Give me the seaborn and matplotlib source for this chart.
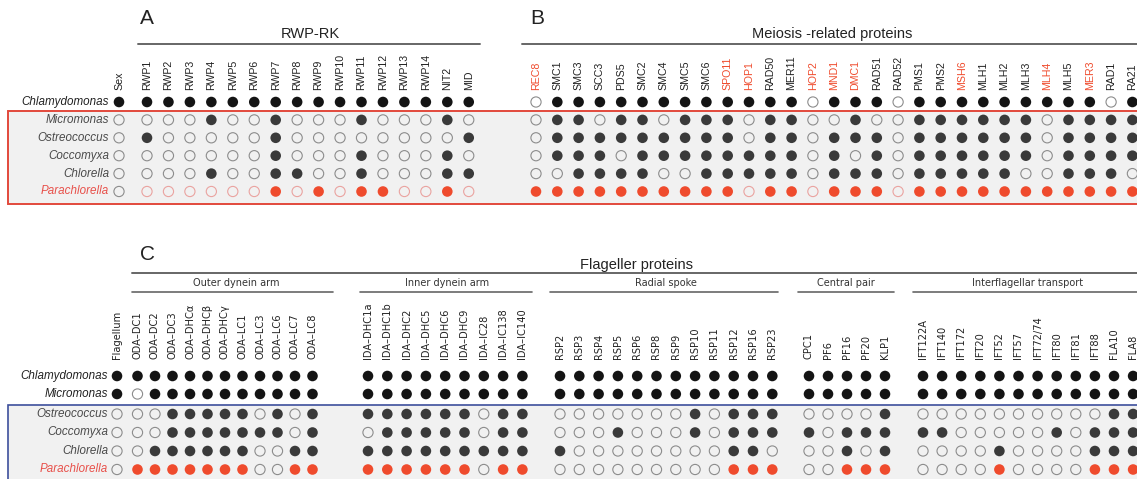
import numpy as np
import pandas as pd
import matplotlib
matplotlib.use('Agg')
import matplotlib.pyplot as plt
import matplotlib.patches as mpatches
import seaborn as sns

# ── 1. Data ──────────────────────────────────────────────────────────────────
species = ['Chlamydomonas', 'Micromonas', 'Ostreococcus',
           'Coccomyxa', 'Chlorella', 'Parachlorella']

# Panel A: sexual reproduction / RWP-RK genes
sex = [1, 0, 0, 0, 0, 0]
rwp_genes = ['RWP1', 'RWP2', 'RWP3', 'RWP4', 'RWP5', 'RWP6', 'RWP7', 'RWP8',
             'RWP9', 'RWP10', 'RWP11', 'RWP12', 'RWP13', 'RWP14', 'NIT2', 'MID']
rwp = {
    'Chlamydomonas': [1, 1, 1, 1, 1, 1, 1, 1, 1, 1, 1, 1, 1, 1, 1, 1],
    'Micromonas':    [0, 0, 0, 1, 0, 0, 1, 0, 0, 0, 1, 0, 0, 0, 1, 0],
    'Ostreococcus':  [1, 0, 0, 0, 0, 0, 1, 0, 0, 0, 0, 0, 0, 0, 0, 1],
    'Coccomyxa':     [0, 0, 0, 0, 0, 0, 1, 0, 0, 0, 1, 0, 0, 0, 1, 0],
    'Chlorella':     [0, 0, 0, 1, 0, 0, 1, 1, 0, 0, 1, 0, 0, 0, 1, 1],
    'Parachlorella': [0, 0, 0, 0, 0, 0, 1, 0, 1, 0, 1, 1, 0, 0, 1, 0],
}

# Panel B: meiosis-related proteins (red labels = meiosis-specific)
meiosis_genes = ['REC8', 'SMC1', 'SMC3', 'SCC3', 'PDS5', 'SMC2', 'SMC4', 'SMC5',
                 'SMC6', 'SPO11', 'HOP1', 'RAD50', 'MER11', 'HOP2', 'MND1',
                 'DMC1', 'RAD51', 'RAD52', 'PMS1', 'PMS2', 'MSH6', 'MLH1',
                 'MLH2', 'MLH3', 'MLH4', 'MLH5', 'MER3', 'RAD1', 'RA21']
meiosis_red = ['REC8', 'SPO11', 'HOP1', 'HOP2', 'MND1', 'DMC1',
               'MSH6', 'MLH4', 'MER3']
meiosis = {
    'Chlamydomonas': [0, 1, 1, 1, 1, 1, 1, 1, 1, 1, 1, 1, 1, 0, 1, 1, 1, 0, 1, 1, 1, 1, 1, 1, 1, 1, 1, 0, 1],
    'Micromonas':    [0, 1, 1, 0, 1, 1, 0, 1, 1, 1, 0, 1, 1, 0, 0, 1, 0, 0, 1, 1, 1, 1, 1, 1, 0, 1, 1, 1, 1],
    'Ostreococcus':  [0, 1, 1, 1, 1, 1, 1, 1, 1, 1, 0, 1, 1, 0, 1, 1, 1, 0, 1, 1, 1, 1, 1, 1, 0, 1, 1, 1, 1],
    'Coccomyxa':     [0, 1, 1, 1, 0, 1, 1, 1, 1, 1, 1, 1, 1, 0, 1, 0, 1, 0, 1, 1, 1, 1, 1, 1, 0, 1, 1, 1, 1],
    'Chlorella':     [0, 0, 1, 1, 1, 1, 0, 0, 1, 1, 1, 1, 1, 0, 1, 1, 1, 0, 1, 1, 1, 1, 1, 0, 0, 1, 1, 1, 0],
    'Parachlorella': [1, 1, 1, 1, 1, 1, 1, 1, 1, 1, 0, 1, 1, 0, 1, 1, 1, 0, 1, 1, 1, 1, 1, 1, 1, 1, 1, 1, 1],
}

# Panel C: flagellar proteins
flagellum = [1, 1, 0, 0, 0, 0]
oda_genes = ['ODA–DC1', 'ODA–DC2', 'ODA–DC3', 'ODA–DHCα', 'ODA–DHCβ', 'ODA–DHCγ',
             'ODA–LC1', 'ODA–LC3', 'ODA–LC6', 'ODA–LC7', 'ODA–LC8']
oda = {
    'Chlamydomonas': [1, 1, 1, 1, 1, 1, 1, 1, 1, 1, 1],
    'Micromonas':    [0, 1, 1, 1, 1, 1, 1, 1, 1, 1, 1],
    'Ostreococcus':  [0, 0, 1, 1, 1, 1, 1, 0, 1, 0, 1],
    'Coccomyxa':     [0, 0, 1, 1, 1, 1, 1, 1, 1, 0, 1],
    'Chlorella':     [0, 1, 1, 1, 1, 1, 1, 0, 0, 1, 1],
    'Parachlorella': [1, 1, 1, 1, 1, 1, 1, 0, 0, 1, 1],
}
ida_genes = ['IDA–DHC1a', 'IDA–DHC1b', 'IDA–DHC2', 'IDA–DHC5', 'IDA–DHC6',
             'IDA–DHC9', 'IDA–IC28', 'IDA–IC138', 'IDA–IC140']
ida = {
    'Chlamydomonas': [1, 1, 1, 1, 1, 1, 1, 1, 1],
    'Micromonas':    [1, 1, 1, 1, 1, 1, 1, 1, 1],
    'Ostreococcus':  [1, 1, 1, 1, 1, 1, 0, 1, 1],
    'Coccomyxa':     [0, 1, 1, 1, 1, 1, 0, 1, 1],
    'Chlorella':     [1, 1, 1, 1, 1, 1, 1, 1, 1],
    'Parachlorella': [1, 1, 1, 1, 1, 1, 0, 1, 1],
}
rsp_genes = ['RSP2', 'RSP3', 'RSP4', 'RSP5', 'RSP6', 'RSP8', 'RSP9', 'RSP10',
             'RSP11', 'RSP12', 'RSP16', 'RSP23']
rsp = {
    'Chlamydomonas': [1, 1, 1, 1, 1, 1, 1, 1, 1, 1, 1, 1],
    'Micromonas':    [1, 1, 1, 1, 1, 1, 1, 1, 1, 1, 1, 1],
    'Ostreococcus':  [0, 0, 0, 0, 0, 0, 0, 1, 0, 1, 1, 1],
    'Coccomyxa':     [0, 0, 0, 1, 0, 0, 0, 1, 0, 1, 1, 1],
    'Chlorella':     [1, 0, 0, 0, 0, 0, 0, 0, 0, 1, 1, 0],
    'Parachlorella': [0, 0, 0, 0, 0, 0, 0, 0, 0, 1, 1, 1],
}
cp_genes = ['CPC1', 'PF6', 'PF16', 'PF20', 'KLP1']
cp = {
    'Chlamydomonas': [1, 1, 1, 1, 1],
    'Micromonas':    [1, 1, 1, 1, 1],
    'Ostreococcus':  [0, 0, 0, 0, 1],
    'Coccomyxa':     [1, 0, 1, 1, 1],
    'Chlorella':     [0, 0, 1, 0, 1],
    'Parachlorella': [0, 0, 1, 1, 1],
}
ift_genes = ['IFT122A', 'IFT140', 'IFT172', 'IFT20', 'IFT52', 'IFT57',
             'IFT72/74', 'IFT80', 'IFT81', 'IFT88', 'FLA10', 'FLA8']
ift = {
    'Chlamydomonas': [1, 1, 1, 1, 1, 1, 1, 1, 1, 1, 1, 1],
    'Micromonas':    [1, 1, 1, 1, 1, 1, 1, 1, 1, 1, 1, 1],
    'Ostreococcus':  [0, 0, 0, 0, 0, 0, 0, 0, 0, 0, 1, 1],
    'Coccomyxa':     [1, 1, 0, 0, 0, 0, 0, 1, 0, 1, 1, 1],
    'Chlorella':     [0, 0, 0, 0, 1, 0, 0, 0, 0, 1, 1, 1],
    'Parachlorella': [0, 0, 0, 0, 1, 0, 0, 0, 0, 1, 1, 1],
}

# ── 2. Layout (pixel canvas) ─────────────────────────────────────────────────
W, H = 1137, 479
top_rows_y = [102 + i * 17.9 for i in range(len(species))]
bot_rows_y = [376, 394] + [414 + i * 18.5 for i in range(4)]

RED = '#ef4b2d'
COLORS = {'black': '#141414', 'dark': '#3a3a3a', 'red': RED}


def block(presence, genes, x0, step, rows_y, panel, boxed_from):
    """Long-form records: one dot per species x gene."""
    recs = []
    for r, sp in enumerate(species):
        for j, g in enumerate(genes):
            val = presence[sp][j]
            if val:
                if sp == 'Parachlorella':
                    state = 'red'
                elif r >= boxed_from:
                    state = 'dark'
                else:
                    state = 'black'
            else:
                pink = panel == 'top' and sp == 'Parachlorella' and g != 'Sex'
                state = 'empty_pink' if pink else 'empty'
            recs.append(dict(x=x0 + j * step, y=rows_y[r], gene=g,
                             species=sp, state=state, panel=panel))
    return recs


sex_d = {sp: [v] for sp, v in zip(species, sex)}
flag_d = {sp: [v] for sp, v in zip(species, flagellum)}

records = []
records += block(sex_d, ['Sex'], 119, 0, top_rows_y, 'top', 1)
records += block(rwp, rwp_genes, 147, 21.45, top_rows_y, 'top', 1)
records += block(meiosis, meiosis_genes, 536, 21.3, top_rows_y, 'top', 1)
records += block(flag_d, ['Flagellum'], 117, 0, bot_rows_y, 'bottom', 2)
records += block(oda, oda_genes, 137.5, 17.5, bot_rows_y, 'bottom', 2)
records += block(ida, ida_genes, 368, 19.3, bot_rows_y, 'bottom', 2)
records += block(rsp, rsp_genes, 560, 19.3, bot_rows_y, 'bottom', 2)
records += block(cp, cp_genes, 809, 19.0, bot_rows_y, 'bottom', 2)
records += block(ift, ift_genes, 923, 19.1, bot_rows_y, 'bottom', 2)
df = pd.DataFrame(records)

# ── 3. Figure ────────────────────────────────────────────────────────────────
sns.set_style('white')
plt.rcParams['font.family'] = ['Liberation Sans', 'DejaVu Sans']

fig = plt.figure(figsize=(W / 100, H / 100), dpi=100)
ax = fig.add_axes([0, 0, 1, 1])
ax.set_xlim(0, W)
ax.set_ylim(H, 0)
ax.axis('off')

# shaded boxes
ax.add_patch(mpatches.Rectangle((8, 110.5), W, 93, facecolor='#f1f1f1',
                                edgecolor='#e2493c', linewidth=1.4, zorder=0))
ax.add_patch(mpatches.Rectangle((8, 405), W, 90, facecolor='#f1f1f1',
                                edgecolor='#3d4f9c', linewidth=1.2, zorder=0))

# dots
for state, color in COLORS.items():
    sub = df[df['state'] == state]
    sns.scatterplot(data=sub, x='x', y='y', color=color, s=58,
                    edgecolor='none', linewidth=0, legend=False, ax=ax, zorder=3)
for state, ec in [('empty', '#8c8c8c'), ('empty_pink', '#eaa3a0')]:
    sub = df[df['state'] == state]
    sns.scatterplot(data=sub, x='x', y='y', color='none', s=54,
                    edgecolor=ec, linewidth=0.8, legend=False, ax=ax, zorder=3)
ax.set_xlim(0, W)
ax.set_ylim(H, 0)
ax.set_xlabel('')
ax.set_ylabel('')

# row labels
for r, sp in enumerate(species):
    col = '#e8504a' if sp == 'Parachlorella' else ('#222222' if r == 0 else '#4a4a4a')
    ax.text(109, top_rows_y[r], sp, ha='right', va='center', fontsize=8.4,
            style='italic', color=col)
    col = '#e8504a' if sp == 'Parachlorella' else ('#222222' if r < 2 else '#4a4a4a')
    ax.text(108, bot_rows_y[r], sp, ha='right', va='center', fontsize=8.4,
            style='italic', color=col)

# column labels
cols = df.drop_duplicates(['panel', 'gene'])
for _, c in cols.iterrows():
    if c['panel'] == 'top':
        color = RED if c['gene'] in meiosis_red else '#222222'
        ax.text(c['x'], 90, c['gene'], rotation=90, ha='center', va='bottom',
                fontsize=7.7, color=color)
    else:
        ax.text(c['x'], 359, c['gene'], rotation=90, ha='center', va='bottom',
                fontsize=7.1, color='#222222', family=['DejaVu Sans'])

# panel headers
hdr = dict(color='#666666', linewidth=1.4)
ax.text(140, 18, 'A', fontsize=15, va='center', ha='left', color='#222222')
ax.text(310, 34, 'RWP-RK', fontsize=10.5, ha='center', va='center', color='#222222')
ax.plot([138, 480], [44, 44], **hdr)
ax.text(530, 18, 'B', fontsize=15, va='center', ha='left', color='#222222')
ax.text(832, 34, 'Meiosis -related proteins', fontsize=10.5, ha='center',
        va='center', color='#222222')
ax.plot([522, W], [44, 44], **hdr)

ax.text(140, 255, 'C', fontsize=15, va='center', ha='left', color='#222222')
ax.text(637, 265, 'Flageller proteins', fontsize=10.5, ha='center',
        va='center', color='#222222')
ax.plot([132, W], [273, 273], **hdr)
subgroups = [('Outer dynein arm', 236, 132, 333),
             ('Inner dynein arm', 447, 360, 532),
             ('Radial spoke', 666, 550, 778),
             ('Central pair', 846, 798, 894),
             ('Interflagellar transport', 1028, 913, W)]
for name, cx, x1, x2 in subgroups:
    ax.text(cx, 283, name, fontsize=7.0, ha='center', va='center',
            color='#333333', family=['DejaVu Sans'])
    ax.plot([x1, x2], [292, 292], color='#666666', linewidth=1.2)

plt.savefig('out.png', dpi=100)
